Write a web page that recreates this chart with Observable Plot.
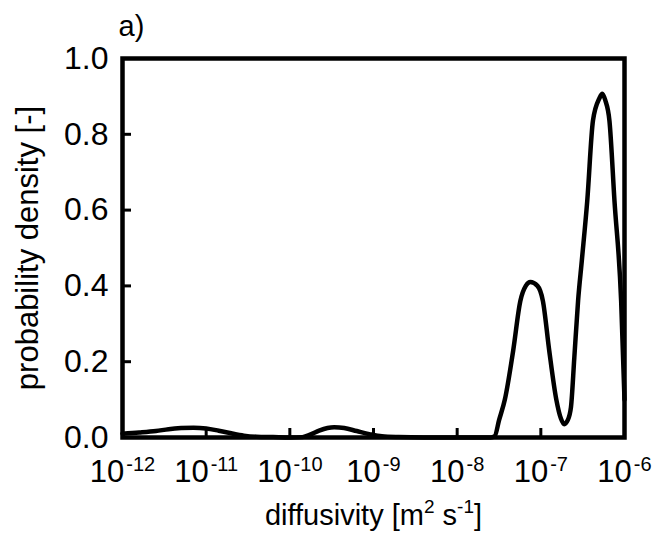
<!DOCTYPE html>
<html>
<head>
<meta charset="utf-8">
<script src="https://cdn.jsdelivr.net/npm/d3@7"></script>
<script src="https://cdn.jsdelivr.net/npm/@observablehq/plot@0.6"></script>
<style>
  html, body { margin: 0; padding: 0; background: #fff; }
  svg { font-family: "Liberation Sans", Arial, sans-serif; }
</style>
</head>
<body>
<div id="chart"></div>
<script>
// log10 of diffusivity [m2 s-1]
const logD = [
  -12.0, -11.8, -11.6, -11.45, -11.3, -11.15, -11.0, -10.85, -10.7, -10.55, -10.4, -10.2, -10.0,
  -9.85, -9.75, -9.65, -9.55, -9.47, -9.35, -9.2, -9.05, -8.9, -8.7, -8.4, -8.0,
  -7.6, -7.55, -7.5, -7.43, -7.33, -7.245, -7.18, -7.125, -7.04, -6.975, -6.9, -6.815, -6.76, -6.72,
  -6.68, -6.64, -6.6, -6.555, -6.51, -6.445, -6.377, -6.3, -6.265, -6.23, -6.18, -6.12, -6.04, -6.0
];
// probability density [-]
const density = [
  0.010, 0.013, 0.017, 0.022, 0.025, 0.026, 0.024, 0.018, 0.011, 0.005, 0.002, 0.001, 0.000,
  0.001, 0.008, 0.018, 0.025, 0.027, 0.025, 0.017, 0.009, 0.003, 0.001, 0.000, 0.000,
  0.000, 0.004, 0.045, 0.10, 0.23, 0.36, 0.40, 0.41, 0.40, 0.36, 0.23, 0.10, 0.05, 0.035,
  0.045, 0.08, 0.21, 0.36, 0.467, 0.625, 0.836, 0.895, 0.907, 0.89, 0.836, 0.625, 0.36, 0.10
];
const xTickExponents = [-12, -11, -10, -9, -8, -7, -6];
const yTicks = [0, 0.2, 0.4, 0.6, 0.8, 1.0];
const xTitle = "diffusivity";
const yTitle = "probability density [-]";
const panelLabel = "a)";

const data = logD.map((e, i) => ({D: Math.pow(10, e), p: density[i]}));
const xTicks = xTickExponents.map(e => Math.pow(10, e));

const chart = Plot.plot({
  width: 655,
  height: 541,
  marginLeft: 122,
  marginRight: 31,
  marginTop: 58,
  marginBottom: 104,
  style: {fontFamily: '"Liberation Sans", Arial, sans-serif', color: "#000", background: "#fff"},
  x: {type: "log", domain: [1e-12, 1e-6]},
  y: {domain: [0, 1]},
  marks: [
    Plot.line(data, {x: "D", y: "p", stroke: "#000", strokeWidth: 4.5, curve: "monotone-x"}),
    Plot.frame({stroke: "#000", strokeWidth: 4.5}),
    Plot.axisX({ticks: xTicks, tickSize: -9, tickPadding: 31, strokeWidth: 3, fontSize: 31,
      tickFormat: d => String(Math.round(Math.log10(d))), label: null}),
    Plot.axisY({ticks: yTicks, tickSize: -9, tickPadding: 23, strokeWidth: 3, fontSize: 32,
      tickFormat: d3.format(".1f"), label: null}),
    Plot.text([yTitle], {frameAnchor: "left", text: d => d, rotate: -90, textAnchor: "middle", dx: -94, fontSize: 31, fill: "#000"}),
    Plot.text([xTitle], {frameAnchor: "bottom", text: d => d, dy: 87, lineAnchor: "bottom", fontSize: 29, fill: "#000"}),
    Plot.text([panelLabel], {frameAnchor: "top-left", text: d => d, dx: -4, dy: -23, lineAnchor: "bottom", textAnchor: "start", fontSize: 29, fill: "#000"})
  ]
});

// superscript exponents on tick labels
d3.select(chart).selectAll('g[aria-label="x-axis tick label"] text').each(function() {
  const t = d3.select(this);
  const exp = t.text().replace("\u2212", "-");
  if (!/^-?\d+$/.test(exp)) return;
  t.text("10");
  t.append("tspan").attr("dx", 2).attr("dy", -11).attr("font-size", 20).text(exp);
});
// superscripts in x title
d3.select(chart).selectAll("text").filter(function() { return d3.select(this).text() === xTitle; }).each(function() {
  const t = d3.select(this);
  t.text(xTitle + " [m");
  t.append("tspan").attr("dy", -12).attr("font-size", 19).text("2");
  t.append("tspan").attr("dy", 12).text(" s");
  t.append("tspan").attr("dy", -12).attr("font-size", 19).text("-1");
  t.append("tspan").attr("dy", 12).text("]");
});

document.getElementById("chart").appendChild(chart);
</script>
</body>
</html>
